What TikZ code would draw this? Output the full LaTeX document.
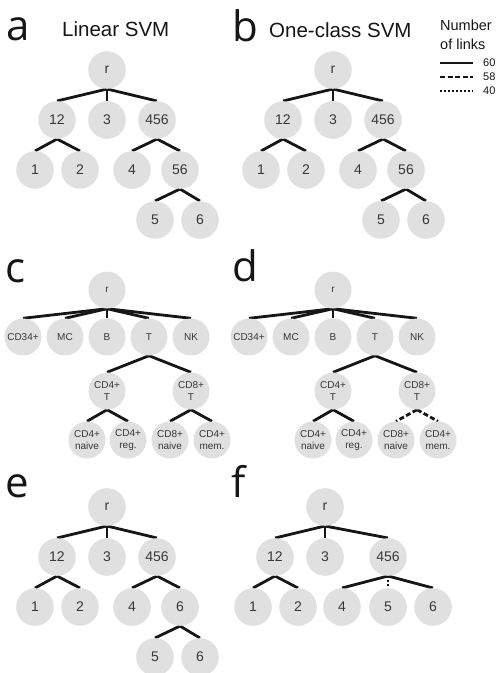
\documentclass[tikz,border=0pt]{standalone}
\usepackage{fontspec}
\setmainfont{Liberation Sans}
\newfontfamily\letterfont{Open Sans}
\usetikzlibrary{backgrounds}
\definecolor{circ}{RGB}{224,224,224}
\definecolor{txt}{RGB}{55,55,55}
\definecolor{ink}{RGB}{22,22,22}
\tikzset{
 cnode/.style={circle,fill=circ,minimum size=37.6pt,inner sep=0pt,text=txt,font=\fontsize{14}{16}\selectfont},
 snode/.style={circle,fill=circ,minimum size=37pt,inner sep=0pt,text=txt,font=\fontsize{10}{11.7}\selectfont,align=center},
 link/.style={line width=2.8pt,draw=ink},
 dashlink/.style={link,dash pattern=on 5pt off 2.5pt},
 dotlink/.style={link,dash pattern=on 2pt off 2pt},
 panel/.style={font=\letterfont\fontsize{42}{42}\selectfont,text=ink,anchor=base west,inner sep=0pt},
 titletext/.style={font=\fontsize{20.5}{24}\selectfont,text=ink,anchor=base west,inner sep=0pt},
 legendtext/.style={font=\fontsize{14.5}{18}\selectfont,text=ink,anchor=base west,inner sep=0pt},
 legendnum/.style={font=\fontsize{11}{13}\selectfont,text=ink,anchor=west,inner sep=0pt},
}
\newcommand{\numtree}[4]{%
 \begin{scope}[shift={(#2,#3)}]
  \node[cnode] (#1r) at (107,70) {r};
  \node[cnode] (#1a) at (57,120) {12};
  \node[cnode] (#1b) at (107,120) {3};
  \node[cnode] (#1c) at (157,120) {456};
  \node[cnode] (#1d) at (35,170) {1};
  \node[cnode] (#1e) at (80,170) {2};
  \node[cnode] (#1f) at (132,170) {4};
  \node[cnode] (#1g) at (180,170) {#4};
  \node[cnode] (#1h) at (155,220) {5};
  \node[cnode] (#1i) at (200,220) {6};
 \end{scope}
 \begin{scope}[on background layer]
  \draw[link] (#1r.south) -- (#1a.north);
  \draw[link] (#1r.south) -- (#1b.north);
  \draw[link] (#1r.south) -- (#1c.north);
  \draw[link] (#1a.south) -- (#1d.north);
  \draw[link] (#1a.south) -- (#1e.north);
  \draw[link] (#1c.south) -- (#1f.north);
  \draw[link] (#1c.south) -- (#1g.north);
  \draw[link] (#1g.south) -- (#1h.north);
  \draw[link] (#1g.south) -- (#1i.north);
 \end{scope}
}
\newcommand{\celltree}[3]{%
 \begin{scope}[shift={(#2,0)}]
  \node[snode] (#1r) at (107,290) {r};
  \node[snode] (#1a) at (23,337) {CD34+};
  \node[snode] (#1b) at (65,337) {MC};
  \node[snode] (#1c) at (107,337) {B};
  \node[snode] (#1d) at (149,337) {T};
  \node[snode] (#1e) at (191,337) {NK};
  \node[snode] (#1f) at (107,391) {CD4+\\T};
  \node[snode] (#1g) at (191,391) {CD8+\\T};
  \node[snode] (#1h) at (87,440) {CD4+\\naive};
  \node[snode] (#1i) at (128,440) {CD4+\\reg.};
  \node[snode] (#1j) at (170,440) {CD8+\\naive};
  \node[snode] (#1k) at (212,440) {CD4+\\mem.};
 \end{scope}
 \begin{scope}[on background layer]
  \draw[link] (#1r.south) -- (#1a.north);
  \draw[link] (#1r.south) -- (#1b.north);
  \draw[link] (#1r.south) -- (#1c.north);
  \draw[link] (#1r.south) -- (#1d.north);
  \draw[link] (#1r.south) -- (#1e.north);
  \draw[link] (#1d.south) -- (#1f.north);
  \draw[link] (#1d.south) -- (#1g.north);
  \draw[link] (#1f.south) -- (#1h.north);
  \draw[link] (#1f.south) -- (#1i.north);
  \draw[#3] (#1g.south) -- (#1j.north);
  \draw[#3] (#1g.south) -- (#1k.north);
 \end{scope}
}
\begin{document}
\begin{tikzpicture}[x=1pt,y=-1pt]
\useasboundingbox (0,0) rectangle (498,673);
% panel letters and titles
\node[panel] (la) at (6,40) {a};
\node[panel] (lb) at (232,41) {b};
\node[panel] (lc) at (5,282) {c};
\node[panel] (ld) at (232,281) {d};
\node[panel] (le) at (5,497) {e};
\node[panel] (lf) at (231,497) {f};
\node[titletext] (ta) at (62,36) {Linear SVM};
\node[titletext] (tb) at (269,37) {One-class SVM};
% legend
\node[legendtext] (lg1) at (440,30) {Number};
\node[legendtext] (lg2) at (440,49) {of links};
\coordinate (s1) at (440,63); \coordinate (e1) at (473,63);
\coordinate (s2) at (440,77); \coordinate (e2) at (473,77);
\coordinate (s3) at (440,91); \coordinate (e3) at (473,91);
\draw[link] (s1) -- (e1);
\draw[dashlink] (s2) -- (e2);
\draw[dotlink] (s3) -- (e3);
\node[legendnum] (n60) at (483,63) {60};
\node[legendnum] (n58) at (483,77) {58};
\node[legendnum] (n40) at (483,91) {40};
% trees
\numtree{A}{0}{0}{56}
\numtree{B}{226}{0}{56}
\celltree{C}{0}{link}
\celltree{D}{226}{dashlink}
\numtree{E}{0}{437}{6}
% panel f
\node[cnode] (Fr) at (325,507) {r};
\node[cnode] (Fa) at (275,557) {12};
\node[cnode] (Fb) at (325,557) {3};
\node[cnode] (Fc) at (388,557) {456};
\node[cnode] (Fd) at (253,607) {1};
\node[cnode] (Fe) at (298,607) {2};
\node[cnode] (Ff) at (342,607) {4};
\node[cnode] (Fg) at (388,607) {5};
\node[cnode] (Fh) at (433,607) {6};
\begin{scope}[on background layer]
 \draw[link] (Fr.south) -- (Fa.north);
 \draw[link] (Fr.south) -- (Fb.north);
 \draw[link] (Fr.south) -- (Fc.north);
 \draw[link] (Fa.south) -- (Fd.north);
 \draw[link] (Fa.south) -- (Fe.north);
 \draw[link] (Fc.south) -- (Ff.north);
 \draw[dotlink] (Fc.south) -- (Fg.north);
 \draw[link] (Fc.south) -- (Fh.north);
\end{scope}
\end{tikzpicture}
\end{document}
